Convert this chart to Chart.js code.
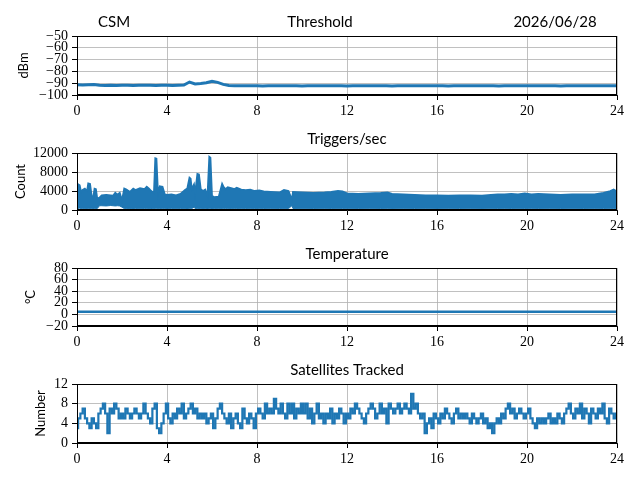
<!DOCTYPE html>
<html><head><meta charset="utf-8">
<script src="https://cdn.jsdelivr.net/npm/chart.js@4/dist/chart.umd.min.js"></script>
<style>
body{margin:0;background:#fff;width:640px;height:480px;position:relative;overflow:hidden}
canvas{position:absolute;left:0}
</style></head><body>
<canvas id="c1" width="640" height="120" style="top:0px"></canvas>
<canvas id="c2" width="640" height="115" style="top:120px"></canvas>
<canvas id="c3" width="640" height="111" style="top:240px"></canvas>
<canvas id="c4" width="640" height="108" style="top:360px"></canvas>
<script>
// ---------- data ----------
const xTicks = [0, 4, 8, 12, 16, 20, 24];
const headerLeft = "CSM";
const headerDate = "2026/06/28";
const titles = ["Threshold", "Triggers/sec", "Temperature", "Satellites Tracked"];
const yLabels = ["dBm", "Count", "\u00B0C", "Number"];

// Threshold (dBm), sampled every 0.25 h
const thresholdStep = 0.25;
const thresholdValues = [
 -91.4,-91.6,-91.3,-91.2,-91.8,-91.9,-91.8,-91.9,-91.7,-91.8,
 -91.9,-91.8,-91.7,-91.8,-91.9,-91.8,-91.8,-91.9,-91.8,-91.6,
 -89.0,-90.6,-90.2,-89.6,-88.3,-89.3,-91.0,-92.0,-92.2,-92.2,
 -92.1,-92.2,-92.2,-92.3,-92.2,-92.2,-92.1,-92.2,-92.2,-92.2,
 -92.3,-92.2,-92.2,-92.1,-92.2,-92.2,-92.2,-92.2,-92.3,-92.2,
 -92.2,-92.2,-92.1,-92.2,-92.2,-92.2,-92.3,-92.2,-92.2,-92.2,
 -92.2,-92.1,-92.2,-92.2,-92.2,-92.2,-92.3,-92.2,-92.2,-92.2,
 -92.1,-92.2,-92.2,-92.2,-92.2,-92.3,-92.2,-92.2,-92.2,-92.2,
 -92.1,-92.2,-92.2,-92.2,-92.2,-92.2,-92.3,-92.2,-92.2,-92.2,
 -92.2,-92.1,-92.2,-92.2,-92.2,-92.2,-92.2
];

// Triggers/sec: upper and lower envelope of the dense trace
const trigTimes = [
 0,0.05,0.12,0.18,0.25,0.35,0.45,0.5,0.58,0.65,
 0.72,0.78,0.84,0.9,1.0,1.1,1.3,1.5,1.6,1.7,
 1.8,1.9,2.0,2.1,2.2,2.35,2.5,2.6,2.8,3.0,
 3.1,3.2,3.3,3.42,3.48,3.53,3.6,3.68,3.8,3.9,
 4.0,4.2,4.4,4.6,4.8,4.9,5.0,5.05,5.1,5.2,
 5.25,5.35,5.42,5.5,5.6,5.7,5.8,5.88,5.93,6.0,
 6.1,6.3,6.45,6.52,6.6,6.7,6.85,7.0,7.1,7.3,
 7.5,7.7,7.9,8.1,8.3,8.6,9.0,9.2,9.4,9.55,
 9.6,10.0,10.5,11.0,11.3,11.6,11.8,12.0,12.5,13.0,
 13.5,13.8,14.0,14.5,15.0,15.5,16.0,16.5,17.0,17.5,
 18.0,18.4,18.7,19.0,19.3,19.6,19.9,20.2,20.5,21.0,
 21.5,22.0,22.5,23.0,23.4,23.7,23.85,24.0
];
const trigHigh = [
 3500,5400,5200,3800,4200,4500,4000,5600,5500,3000,
 2600,4500,4400,2400,2600,3100,3200,3100,3000,3600,
 3200,3600,2000,4500,4300,3800,4500,4200,4600,4400,
 4900,4500,4000,3600,10900,10800,3400,5000,4900,3300,
 3200,3300,3100,3400,4200,4500,6800,6600,4400,5400,
 3500,7600,7500,4400,4000,4300,3000,11200,11000,3000,
 2700,2800,5500,4800,4400,4800,4600,4400,4700,4300,
 4200,4300,4000,4100,3900,3800,3700,4200,4000,2200,
 3800,3700,3600,3700,3800,4000,3900,3500,3400,3500,
 3600,3700,3400,3300,3200,3100,3100,3000,3100,3100,
 3000,3200,3300,3300,3400,3300,3500,3300,3400,3300,
 3200,3300,3300,3300,3600,4000,4300,3900
];
const trigLow = [
 300,200,400,300,250,300,200,300,250,300,
 200,300,250,300,900,900,850,950,900,850,
 900,850,600,300,250,300,200,300,250,300,
 250,300,200,300,250,300,250,300,250,300,
 200,300,250,300,250,200,300,250,300,600,
 300,250,300,250,300,250,200,300,250,200,
 300,250,300,250,300,250,300,250,300,250,
 300,250,300,250,300,250,300,250,300,900,
 300,250,300,250,300,250,300,250,300,250,
 300,250,300,250,300,250,300,250,300,250,
 300,250,300,250,300,250,300,250,300,250,
 300,250,300,250,300,250,300,250
];

// Temperature (°C), hourly
const tempStep = 1;
const tempValues = [4.6,4.6,4.5,4.6,4.6,4.5,4.6,4.6,4.6,4.5,4.6,4.6,4.6,4.5,4.6,4.6,4.6,4.5,4.6,4.6,4.6,4.5,4.6,4.6,4.6];

// Satellites tracked, every 0.1 h
const satStep = 0.1;
const satValues = [
 3,5,6,7,5,4,3,5,4,3,
 6,7,8,6,2,7,6,8,7,5,
 6,5,7,6,5,6,7,6,5,6,
 8,6,5,4,7,8,3,2,4,6,
 8,5,4,6,5,7,6,8,5,6,
 7,8,6,7,5,6,5,6,4,5,
 6,3,5,7,8,6,5,4,6,3,
 5,6,4,3,7,5,4,6,5,3,
 6,7,6,5,8,6,7,6,9,7,
 6,8,6,5,8,6,8,5,7,6,
 8,6,8,5,7,4,6,8,5,6,
 4,6,5,7,4,6,5,7,6,4,
 6,5,7,6,8,7,6,5,4,6,
 7,8,7,5,6,8,6,7,4,8,
 7,6,7,8,6,7,8,7,6,10,
 7,8,6,5,6,2,4,5,3,6,
 5,4,6,5,7,6,5,4,6,7,
 5,6,5,6,5,4,6,5,4,5,
 6,4,5,3,4,2,4,5,4,6,
 5,7,8,6,7,5,6,7,6,5,
 6,7,5,4,3,5,4,5,4,5,
 6,4,5,4,6,5,4,6,7,8,
 6,5,7,6,8,5,7,6,4,7,
 6,5,7,6,8,5,4,7,6,5,
 6
];

// ---------- helpers ----------
const BLUE = '#1f77b4';
const SERIF = "'Liberation Serif', 'DejaVu Serif', 'Times New Roman', serif";
const SANS = "Lato, 'DejaVu Sans', sans-serif";
const onGrid = (vals, step) => vals.map((v, i) => ({x: i * step, y: v}));
const onTimes = (times, vals) => vals.map((v, i) => ({x: times[i], y: v}));

const framePlugin = {
  id: 'frame',
  afterDraw(chart, args, opts) {
    const {ctx, chartArea: a} = chart;
    ctx.save();
    ctx.strokeStyle = '#000';
    ctx.lineWidth = 1;
    ctx.strokeRect(Math.round(a.left) + 0.5, Math.round(a.top) + 0.5,
                   Math.round(a.right - a.left) - 1, Math.round(a.bottom - a.top) - 1);
    ctx.fillStyle = '#000';
    ctx.font = '15px ' + SANS;
    ctx.textBaseline = 'middle';
    (opts.items || []).forEach(it => {
      ctx.textAlign = it.align || 'center';
      const x = it.x == null ? (a.left + a.right) / 2 : it.x;
      ctx.fillText(it.text, x, a.top - 14);
    });
    ctx.restore();
  }
};

const fmt = v => (v < 0 ? '\u2212' : '') + Math.abs(v);

function makeChart(id, padTop, datasets, yMin, yMax, yStep, yTitle, yTitlePad, items) {
  return new Chart(document.getElementById(id), {
    type: 'line',
    data: {datasets},
    options: {
      responsive: false,
      animation: false,
      events: [],
      layout: {padding: {top: padTop, right: 23, left: 0, bottom: 0}},
      plugins: {legend: {display: false}, tooltip: {enabled: false}, frame: {items}},
      elements: {point: {radius: 0}, line: {tension: 0}},
      scales: {
        x: {
          type: 'linear', min: 0, max: 24,
          afterBuildTicks: s => { s.ticks = xTicks.map(v => ({value: v})); },
          ticks: {font: {family: SERIF, size: 14}, color: '#000', padding: 3,
                  maxRotation: 0, autoSkip: false, callback: fmt},
          grid: {color: '#b0b0b0', lineWidth: 0.8, tickColor: '#000', tickLength: 5, tickWidth: 1},
          border: {color: '#000', width: 1},
          afterFit: s => { s.height = 25; }
        },
        y: {
          min: yMin, max: yMax,
          ticks: {stepSize: yStep, font: {family: SERIF, size: 14}, color: '#000',
                  padding: 4, callback: fmt, autoSkip: false},
          grid: {color: '#b0b0b0', lineWidth: 0.8, tickColor: '#000', tickLength: 5, tickWidth: 1},
          border: {color: '#000', width: 1},
          title: {display: true, text: yTitle, font: {family: SANS, size: 13}, color: '#000',
                  padding: {top: yTitlePad, bottom: 0}},
          afterFit: s => { s.width = 77; }
        }
      }
    },
    plugins: [framePlugin]
  });
}

// ---------- charts ----------
makeChart('c1', 36,
  [{data: onGrid(thresholdValues, thresholdStep), borderColor: BLUE, borderWidth: 3, fill: false}],
  -100, -50, 10, yLabels[0], 16,
  [{text: headerLeft, x: 98, align: 'left'}, {text: titles[0], x: 320}, {text: headerDate, x: 555}]);

makeChart('c2', 33,
  [{data: onTimes(trigTimes, trigLow), borderColor: BLUE, borderWidth: 1, fill: false},
   {data: onTimes(trigTimes, trigHigh), borderColor: BLUE, borderWidth: 1.8, backgroundColor: BLUE, fill: '-1'}],
  0, 12000, 4000, yLabels[1], 13,
  [{text: titles[1]}]);

makeChart('c3', 28,
  [{data: onGrid(tempValues, tempStep), borderColor: BLUE, borderWidth: 2.5, fill: false}],
  -20, 80, 20, yLabels[2], 23,
  [{text: titles[2]}]);

makeChart('c4', 24,
  [{data: onGrid(satValues, satStep), borderColor: BLUE, borderWidth: 2.2, stepped: 'middle', fill: false}],
  0, 12, 4, yLabels[3], 33,
  [{text: titles[3]}]);
</script>
</body></html>
